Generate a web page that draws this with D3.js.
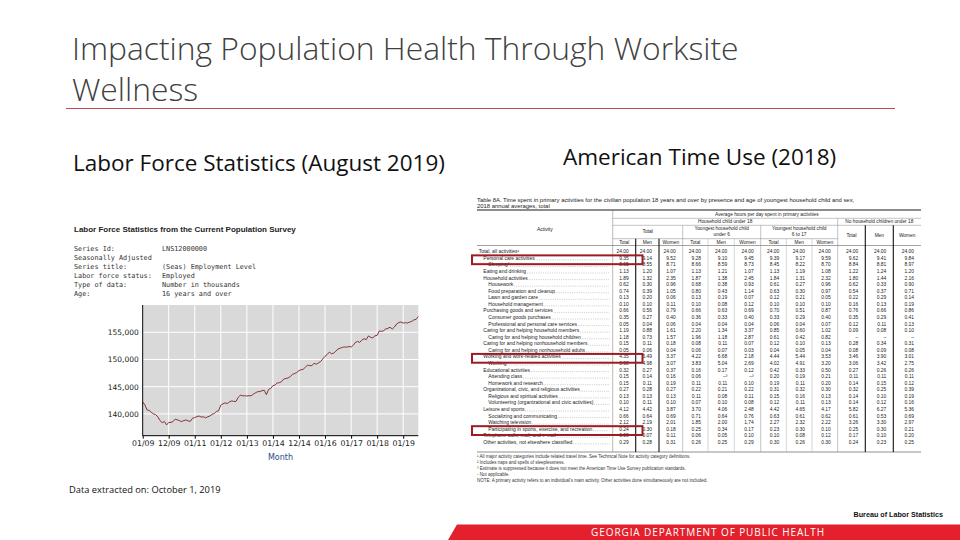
<!DOCTYPE html>
<html>
<head>
<meta charset="utf-8">
<script src="https://cdn.jsdelivr.net/npm/d3@7"></script>
<style>
  html, body { margin: 0; padding: 0; background: #fff; }
  svg { display: block; }
</style>
</head>
<body>
<script>
// ---- Labor force chart data (employment level, thousands, monthly from Jan 2009) ----
var startYear = 2009;
var employment = [
  142187, 141660, 140754, 140654, 140294, 140003, 139891, 139458, 138775, 138401, 138607, 137968,
  138432, 138438, 138581, 139034, 138904, 138754, 138602, 138772, 138894, 138698, 138650, 139206,
  139330, 139522, 139620, 139423, 139474, 139277, 139470, 139620, 139928, 140060, 140450, 140590,
  141610, 141860, 142036, 141899, 142206, 142391, 142292, 142291, 143044, 143431, 143333, 143330,
  143292, 143362, 143316, 143635, 143882, 144079, 144100, 144270, 144340, 143535, 144482, 144671,
  145200, 145299, 145688, 145735, 145916, 146388, 146519, 146592, 146870, 147251, 147420, 147601,
  147950, 148123, 148189, 148585, 148946, 148861, 148881, 149286, 149125, 149389, 149618, 150112,
  150573, 150914, 151357, 151057, 151154, 151533, 151914, 152077, 152227, 152289, 152254, 152392,
  152271, 152615, 153108, 153310, 153147, 153546, 153810, 153649, 154317, 154073, 153963, 154341,
  154430, 155233, 155159, 155266, 155601, 155722, 155917, 155590, 155974, 156513, 156773, 156892,
  156680, 156741, 156691, 156858, 156987, 157277, 157345, 157878
];
var yTicks = [140000, 145000, 150000, 155000];
var xTickLabels = ["01/09", "12/09", "01/11", "01/12", "01/13", "01/14", "12/14", "01/16", "01/17", "01/18", "01/19"];
var seriesLabels = ["Series Id:", "Seasonally Adjusted", "Series title:", "Labor force status:", "Type of data:", "Age:"];
var seriesValues = ["LNS12000000", "", "(Seas) Employment Level", "Employed", "Number in thousands", "16 years and over"];

// ---- Time use table data (hours per day, 2018) ----
var activities = [
  "Total, all activities\u00b9", "Personal care activities", "Sleeping\u00b2", "Eating and drinking",
  "Household activities", "Housework", "Food preparation and cleanup", "Lawn and garden care",
  "Household management", "Purchasing goods and services", "Consumer goods purchases",
  "Professional and personal care services", "Caring for and helping household members",
  "Caring for and helping household children", "Caring for and helping nonhousehold members",
  "Caring for and helping nonhousehold adults", "Working and work-related activities", "Working",
  "Educational activities", "Attending class", "Homework and research",
  "Organizational, civic, and religious activities", "Religious and spiritual activities",
  "Volunteering (organizational and civic activities)", "Leisure and sports",
  "Socializing and communicating", "Watching television",
  "Participating in sports, exercise, and recreation", "Telephone calls, mail, and e-mail",
  "Other activities, not elsewhere classified"
];
var activityLevel = [0,1,2,1,1,2,2,2,2,1,2,2,1,2,1,2,1,2,1,2,2,1,2,2,1,2,2,2,1,1];
var highlighted = ["Personal care activities", "Working and work-related activities",
  "Participating in sports, exercise, and recreation"];

var allPersons = [
  ["24.00","24.00","24.00"],["9.35","9.14","9.52"],["8.65","8.55","8.71"],["1.13","1.20","1.07"],
  ["1.89","1.32","2.35"],["0.62","0.30","0.96"],["0.74","0.39","1.05"],["0.13","0.20","0.06"],
  ["0.10","0.10","0.11"],["0.66","0.56","0.79"],["0.35","0.27","0.40"],["0.05","0.04","0.06"],
  ["1.19","0.88","1.61"],["1.18","0.73","1.57"],["0.15","0.11","0.18"],["0.05","0.06","0.04"],
  ["4.35","5.49","3.37"],["3.98","4.98","3.07"],["0.32","0.27","0.37"],["0.15","0.14","0.16"],
  ["0.15","0.11","0.19"],["0.27","0.28","0.27"],["0.13","0.13","0.13"],["0.10","0.11","0.10"],
  ["4.12","4.42","3.87"],["0.66","0.64","0.69"],["2.12","2.19","2.01"],["0.24","0.30","0.18"],
  ["0.09","0.07","0.11"],["0.29","0.28","0.31"]
];
var childUnder6 = [
  ["24.00","24.00","24.00"],["9.28","9.10","9.45"],["8.66","8.59","8.73"],["1.13","1.21","1.07"],
  ["1.87","1.38","2.45"],["0.68","0.38","0.93"],["0.80","0.43","1.14"],["0.13","0.19","0.07"],
  ["0.10","0.08","0.12"],["0.66","0.63","0.69"],["0.36","0.33","0.40"],["0.04","0.04","0.04"],
  ["2.20","1.34","3.37"],["1.96","1.18","2.87"],["0.08","0.11","0.07"],["0.06","0.07","0.03"],
  ["4.22","6.68","2.18"],["3.83","5.04","2.69"],["0.16","0.17","0.12"],["0.06","\u2013\u00b3","\u2013\u00b3"],
  ["0.11","0.11","0.10"],["0.22","0.21","0.22"],["0.11","0.08","0.11"],["0.07","0.10","0.08"],
  ["3.70","4.06","2.48"],["0.71","0.64","0.76"],["1.85","2.00","1.74"],["0.25","0.34","0.17"],
  ["0.06","0.05","0.10"],["0.26","0.25","0.29"]
];
var child6to17 = [
  ["24.00","24.00","24.00"],["9.39","9.17","9.59"],["8.45","8.22","8.70"],["1.13","1.19","1.08"],
  ["1.84","1.31","2.32"],["0.61","0.27","0.96"],["0.63","0.30","0.97"],["0.12","0.21","0.05"],
  ["0.10","0.10","0.10"],["0.70","0.51","0.87"],["0.33","0.29","0.40"],["0.06","0.04","0.07"],
  ["0.85","0.60","1.02"],["0.61","0.42","0.82"],["0.12","0.10","0.13"],["0.04","0.05","0.04"],
  ["4.44","5.44","3.53"],["4.02","4.91","3.20"],["0.42","0.33","0.50"],["0.20","0.19","0.21"],
  ["0.19","0.11","0.20"],["0.31","0.32","0.30"],["0.15","0.16","0.13"],["0.12","0.11","0.13"],
  ["4.42","4.65","4.17"],["0.63","0.61","0.62"],["2.27","2.32","2.22"],["0.23","0.30","0.10"],
  ["0.10","0.08","0.12"],["0.30","0.26","0.30"]
];
var noChild = [
  ["24.00","24.00","24.00"],["9.62","9.41","9.84"],["8.84","8.81","8.97"],["1.22","1.24","1.20"],
  ["1.80","1.44","2.16"],["0.62","0.33","0.90"],["0.54","0.37","0.71"],["0.22","0.29","0.14"],
  ["0.16","0.13","0.19"],["0.76","0.66","0.86"],["0.35","0.29","0.41"],["0.12","0.11","0.13"],
  ["0.09","0.08","0.10"],["\u2013","\u2013","\u2013"],["0.28","0.34","0.31"],["0.08","0.09","0.08"],
  ["3.46","3.90","3.01"],["3.06","3.42","2.75"],["0.27","0.26","0.26"],["0.11","0.11","0.11"],
  ["0.14","0.15","0.12"],["0.32","0.25","0.39"],["0.14","0.10","0.19"],["0.14","0.12","0.16"],
  ["5.82","6.27","5.36"],["0.61","0.53","0.69"],["3.26","3.30","2.97"],["0.25","0.30","0.21"],
  ["0.17","0.10","0.20"],["0.24","0.23","0.25"]
];
var footnotes = [
  "\u00b9 All major activity categories include related travel time. See Technical Note for activity category definitions.",
  "\u00b2 Includes naps and spells of sleeplessness.",
  "\u00b3 Estimate is suppressed because it does not meet the American Time Use Survey publication standards.",
  "- Not applicable.",
  "NOTE: A primary activity refers to an individual's main activity. Other activities done simultaneously are not included."
];

var W = 960, H = 540;
var svg = d3.select("body").append("svg")
  .attr("width", W)
  .attr("height", H)
  .style("font-family", "'Open Sans', 'Noto Sans', sans-serif");

// ---------- slide title ----------
var title = svg.append("text")
  .attr("fill", "#404040")
  .attr("font-size", 31.8)
  .attr("font-weight", 300);
title.append("tspan").attr("x", 72).attr("y", 60).text("Impacting Population Health Through Worksite");
title.append("tspan").attr("x", 72).attr("y", 101).text("Wellness");

svg.append("line")
  .attr("x1", 66).attr("x2", 895)
  .attr("y1", 108.5).attr("y2", 108.5)
  .attr("stroke", "#c04a55")
  .attr("stroke-width", 1);

svg.append("text")
  .attr("x", 73).attr("y", 171)
  .attr("font-size", 22.5)
  .attr("fill", "#111")
  .text("Labor Force Statistics (August 2019)");

svg.append("text")
  .attr("x", 563).attr("y", 165)
  .attr("font-size", 22.5)
  .attr("fill", "#111")
  .text("American Time Use (2018)");

// ---------- labor force chart ----------
var lf = svg.append("g").attr("class", "labor-force");

lf.append("text")
  .attr("x", 74).attr("y", 232)
  .attr("font-family", "'Liberation Sans', Arial, sans-serif")
  .attr("font-weight", "bold")
  .attr("font-size", 8)
  .attr("fill", "#222")
  .text("Labor Force Statistics from the Current Population Survey");

var meta = lf.selectAll(".meta")
  .data(seriesLabels)
  .enter().append("g")
  .attr("class", "meta")
  .attr("font-family", "'DejaVu Sans Mono', monospace")
  .attr("font-size", 6.8)
  .attr("fill", "#333");

meta.append("text")
  .attr("x", 74)
  .attr("y", function(d, i) { return 251 + i * 9; })
  .text(function(d) { return d; });

meta.append("text")
  .attr("x", 162)
  .attr("y", function(d, i) { return 251 + i * 9; })
  .text(function(d, i) { return seriesValues[i]; });

var plot = { left: 142.7, right: 418.3, top: 305, bottom: 435.7 };

var x = d3.scaleTime()
  .domain([new Date(startYear, 0, 1), new Date(startYear, employment.length - 1, 1)])
  .range([plot.left, plot.right]);

var y = d3.scaleLinear()
  .domain([136000, 160000])
  .range([plot.bottom, plot.top]);

var yearTicks = d3.timeYear.range(new Date(startYear, 0, 1), new Date(2019, 1, 1));

lf.append("rect")
  .attr("x", plot.left).attr("y", plot.top)
  .attr("width", plot.right - plot.left)
  .attr("height", plot.bottom - plot.top)
  .attr("fill", "#d9d9d9");

lf.selectAll(".hgrid")
  .data(yTicks)
  .enter().append("line")
  .attr("class", "hgrid")
  .attr("x1", plot.left).attr("x2", plot.right)
  .attr("y1", function(d) { return y(d); })
  .attr("y2", function(d) { return y(d); })
  .attr("stroke", "#fff")
  .attr("stroke-width", 1);

lf.selectAll(".vgrid")
  .data(yearTicks)
  .enter().append("line")
  .attr("class", "vgrid")
  .attr("x1", function(d) { return x(d); })
  .attr("x2", function(d) { return x(d); })
  .attr("y1", plot.top).attr("y2", plot.bottom)
  .attr("stroke", "#fff")
  .attr("stroke-width", 1);

var line = d3.line()
  .x(function(d, i) { return x(new Date(startYear, i, 1)); })
  .y(function(d) { return y(d); });

lf.append("path")
  .datum(employment)
  .attr("d", line)
  .attr("fill", "none")
  .attr("stroke", "#7e1f28")
  .attr("stroke-width", 0.9);

var yAxis = d3.axisLeft(y)
  .tickValues(yTicks)
  .tickSize(0)
  .tickPadding(4)
  .tickFormat(d3.format(","));

lf.append("g")
  .attr("transform", "translate(" + plot.left + ",0)")
  .call(yAxis)
  .call(function(g) {
    g.select(".domain").attr("stroke", "#000").attr("d", "M0," + plot.top + "V" + plot.bottom);
    g.selectAll("text")
      .attr("font-family", "'DejaVu Sans', Verdana, sans-serif")
      .attr("font-size", 7.5)
      .attr("fill", "#222");
  });

var xAxis = d3.axisBottom(x)
  .tickValues(yearTicks)
  .tickSize(3)
  .tickPadding(2)
  .tickFormat(function(d, i) { return xTickLabels[i]; });

lf.append("g")
  .attr("transform", "translate(0," + plot.bottom + ")")
  .call(xAxis)
  .call(function(g) {
    g.select(".domain").attr("stroke", "#000").attr("d", "M" + plot.left + ",0H" + plot.right);
    g.selectAll("line").attr("stroke", "#000");
    g.selectAll("text")
      .attr("font-family", "'DejaVu Sans', Verdana, sans-serif")
      .attr("font-size", 7.8)
      .attr("fill", "#222");
  });

lf.append("text")
  .attr("x", (plot.left + plot.right) / 2)
  .attr("y", 460)
  .attr("text-anchor", "middle")
  .attr("font-family", "'DejaVu Sans', Verdana, sans-serif")
  .attr("font-size", 8)
  .attr("fill", "#2c4d7e")
  .text("Month");

svg.append("text")
  .attr("x", 69).attr("y", 493)
  .attr("font-size", 9.3)
  .attr("fill", "#111")
  .text("Data extracted on: October 1, 2019");

// ---------- time use table ----------
var tb = svg.append("g")
  .attr("class", "time-use")
  .attr("font-family", "'Liberation Sans', Arial, sans-serif")
  .attr("fill", "#222");

var tLeft = 477, tRight = 921, actRight = 612.7;
var colEdges = [612.7, 635.7, 659, 682.7, 708, 734.3, 760.7, 786.3, 812, 837.7, 865.3, 893.3, 921];

tb.append("text").attr("x", tLeft).attr("y", 201.5).attr("font-size", 5.9)
  .text("Table 8A. Time spent in primary activities for the civilian population 18 years and over by presence and age of youngest household child and sex,");
tb.append("text").attr("x", tLeft).attr("y", 207.6).attr("font-size", 5.9)
  .text("2018 annual averages, total");

function hline(y0, x0, x1, w, c) {
  tb.append("line").attr("x1", x0).attr("x2", x1).attr("y1", y0).attr("y2", y0)
    .attr("stroke", c || "#000").attr("stroke-width", w || 0.5);
}
function vline(x0, y0, y1, w, c) {
  tb.append("line").attr("x1", x0).attr("x2", x0).attr("y1", y0).attr("y2", y1)
    .attr("stroke", c || "#888").attr("stroke-width", w || 0.5);
}

var tBottom = 452;
hline(210, tLeft, tRight, 0.9);
hline(218.3, actRight, tRight, 0.4, "#666");
hline(225.3, actRight, tRight, 0.4, "#666");
hline(238.7, actRight, colEdges[9], 0.4, "#666");
hline(245.5, tLeft, tRight, 0.5, "#444");
hline(tBottom, tLeft, tRight, 0.6, "#444");

vline(actRight, 210, tBottom, 0.5, "#777");
vline(colEdges[1], 238.7, tBottom, 1.1, "#111");
vline(colEdges[2], 238.7, tBottom, 1.1, "#111");
vline(colEdges[3], 225.3, tBottom, 0.5, "#888");
vline(colEdges[4], 238.7, tBottom, 0.5, "#aaa");
vline(colEdges[5], 238.7, tBottom, 0.5, "#aaa");
vline(colEdges[6], 225.3, tBottom, 0.5, "#888");
vline(colEdges[7], 238.7, tBottom, 0.5, "#aaa");
vline(colEdges[8], 238.7, tBottom, 0.5, "#aaa");
vline(colEdges[9], 218.3, tBottom, 0.5, "#888");
vline(colEdges[10], 225.3, tBottom, 1.1, "#111");
vline(colEdges[11], 225.3, tBottom, 1.1, "#111");

function centerText(cx, cy, s, fs) {
  tb.append("text").attr("x", cx).attr("y", cy).attr("text-anchor", "middle")
    .attr("font-size", fs || 4.8).text(s);
}
function mid(a, b) { return (colEdges[a] + colEdges[b]) / 2; }

centerText((tLeft + actRight) / 2, 231, "Activity", 5);
centerText((actRight + tRight) / 2, 216.2, "Average hours per day spent in primary activities");
centerText(mid(0, 9), 223.4, "Household child under 18");
centerText(mid(9, 12), 223.4, "No household children under 18");
centerText(mid(0, 3), 233.4, "Total", 5);
centerText(mid(3, 6), 230.2, "Youngest household child");
centerText(mid(3, 6), 235.6, "under 6");
centerText(mid(6, 9), 230.2, "Youngest household child");
centerText(mid(6, 9), 235.6, "6 to 17");
var subHeads = ["Total", "Men", "Women"];
subHeads.forEach(function(s, k) {
  centerText(mid(9 + k, 10 + k), 237.2, s);
  [0, 3, 6].forEach(function(off) {
    centerText(mid(off + k, off + k + 1), 243.6, s);
  });
});

var rowY = d3.scaleBand()
  .domain(d3.range(activities.length))
  .range([248.6, 248.6 + activities.length * 6.57]);

var groups = [allPersons, childUnder6, child6to17, noChild];
var indent = [1.7, 6.3, 11.3];

var rows = tb.selectAll(".row")
  .data(activities)
  .enter().append("g")
  .attr("class", "row")
  .attr("transform", function(d, i) { return "translate(0," + (rowY(i) + 4.7) + ")"; });

rows.append("text")
  .attr("class", "label")
  .attr("x", function(d, i) { return tLeft + indent[activityLevel[i]]; })
  .attr("font-size", 5)
  .text(function(d) { return d; });

rows.each(function(d, i) {
  var g = d3.select(this);
  var lab = g.select(".label").node();
  var end = tLeft + indent[activityLevel[i]] + lab.getComputedTextLength() + 1;
  if (i > 0 && end < actRight - 4) {
    g.append("line")
      .attr("x1", end).attr("x2", actRight - 3)
      .attr("y1", 0).attr("y2", 0)
      .attr("stroke", "#444")
      .attr("stroke-width", 0.45)
      .attr("stroke-dasharray", "0.5,1.3");
  }
  groups.forEach(function(grp, gi) {
    grp[i].forEach(function(v, k) {
      var c = gi * 3 + k;
      g.append("text")
        .attr("x", colEdges[c + 1] - 7)
        .attr("text-anchor", "end")
        .attr("font-size", 4.9)
        .text(v);
    });
  });
});

tb.selectAll(".foot")
  .data(footnotes)
  .enter().append("text")
  .attr("class", "foot")
  .attr("x", tLeft)
  .attr("y", function(d, i) { return 458 + i * 6; })
  .attr("font-size", 4.5)
  .attr("fill", "#333")
  .text(function(d) { return d; });

// highlight boxes
tb.selectAll(".hl")
  .data(highlighted)
  .enter().append("rect")
  .attr("class", "hl")
  .attr("x", 472)
  .attr("y", function(d) { return rowY(activities.indexOf(d)) + 0.2; })
  .attr("width", 170.5)
  .attr("height", 8.8)
  .attr("fill", "none")
  .attr("stroke", "#9c1c22")
  .attr("stroke-width", 2);

// ---------- footer ----------
svg.append("text")
  .attr("x", 943).attr("y", 517)
  .attr("text-anchor", "end")
  .attr("font-family", "'Liberation Sans', Arial, sans-serif")
  .attr("font-weight", "bold")
  .attr("font-size", 7.2)
  .attr("fill", "#111")
  .text("Bureau of Labor Statistics");

svg.append("path")
  .attr("d", "M457,524.5L960,524.5L960,540L448,540Z")
  .attr("fill", "#e3202b");

svg.append("text")
  .attr("x", 708).attr("y", 536)
  .attr("text-anchor", "middle")
  .attr("font-size", 10)
  .attr("letter-spacing", 0.9)
  .attr("fill", "#fff")
  .text("GEORGIA DEPARTMENT OF PUBLIC HEALTH");
</script>
</body>
</html>
